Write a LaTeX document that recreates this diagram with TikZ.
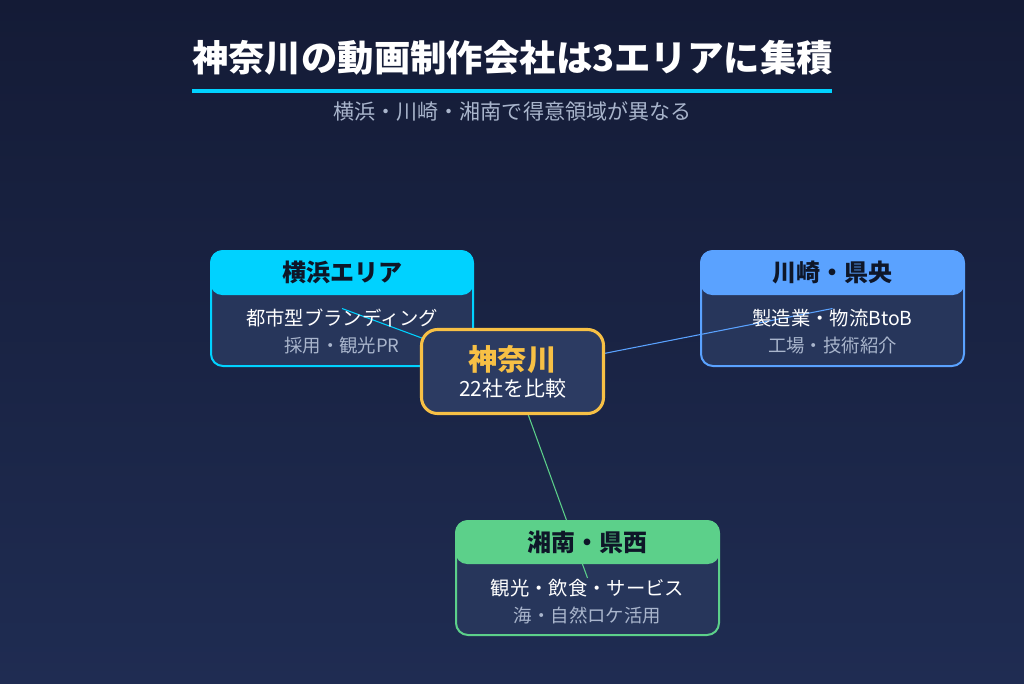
\documentclass[tikz,border=0pt]{standalone}
\usepackage{fontspec}
\setmainfont{Noto Sans CJK JP}
\usetikzlibrary{calc}
\definecolor{bgtop}{HTML}{141B36}
\definecolor{bgbot}{HTML}{1F2C52}
\definecolor{bodyc}{HTML}{27365B}
\definecolor{cyanc}{HTML}{00D2FF}
\definecolor{bluec}{HTML}{5AA2FF}
\definecolor{greenc}{HTML}{5CD08A}
\definecolor{goldc}{HTML}{F7C045}
\definecolor{centc}{HTML}{2C3B62}
\definecolor{subc}{HTML}{A9B5CC}
\definecolor{darkt}{HTML}{0E1628}
\tikzset{
  bodybox/.style={draw=#1, line width=1.5pt, fill=bodyc, rounded corners=9pt},
  headbox/.style={fill=#1, rounded corners=9pt},
  headtxt/.style={text=darkt, font=\fontsize{18}{20}\selectfont\bfseries},
  line1/.style={text=white, font=\fontsize{14.5}{16}\selectfont},
  line2/.style={text=subc, font=\fontsize{13.8}{15}\selectfont},
  link/.style={draw=#1, line width=0.8pt},
}
\begin{document}
\begin{tikzpicture}[x=0.75pt,y=-0.75pt]
\shade[top color=bgtop, bottom color=bgbot] (0,0) rectangle (1024,683);
\useasboundingbox (0,0) rectangle (1024,683);
% title
\node[text=white, font=\fontsize{27.3}{30}\selectfont\bfseries] (title) at (512.5,58) {神奈川の動画制作会社は3エリアに集積};
\fill[cyanc] (192,89) rectangle (832,92.5);
\node[text=subc, font=\fontsize{15.8}{17}\selectfont] (sub) at (512.5,112) {横浜・川崎・湘南で得意領域が異なる};
% bodies
\draw[bodybox=cyanc] (211,251) rectangle (473,366);
\draw[bodybox=bluec] (701,251) rectangle (964,366);
\draw[bodybox=greenc] (456,521) rectangle (719,635);
\coordinate (yc) at (342,308.5);
\coordinate (kc) at (832.5,308.5);
\coordinate (sc) at (587.5,578);
\coordinate (cc) at (512.5,371.5);
% links
\draw[link=cyanc] (cc) -- (yc);
\draw[link=bluec] (cc) -- (kc);
\draw[link=greenc] (cc) -- (sc);
% headers
\fill[headbox=cyanc] (210.25,250.25) rectangle (473.75,295);
\fill[headbox=bluec] (700.25,250.25) rectangle (964.75,295);
\fill[headbox=greenc] (455.25,520.25) rectangle (719.75,564);
\node[headtxt] (yh) at (342,272) {横浜エリア};
\node[headtxt] (kh) at (832.5,272) {川崎・県央};
\node[headtxt] (sh) at (587.5,542) {湘南・県西};
\node[line1] (y1) at (342,318) {都市型ブランディング};
\node[line2] (y2) at (342,346) {採用・観光PR};
\node[line1] (k1) at (832.5,318) {製造業・物流BtoB};
\node[line2] (k2) at (832.5,346) {工場・技術紹介};
\node[line1] (s1) at (587.5,588) {観光・飲食・サービス};
\node[line2] (s2) at (587.5,615) {海・自然ロケ活用};
% center
\draw[draw=goldc, line width=2.3pt, fill=centc, rounded corners=12pt] (421.5,329.5) rectangle (603.5,413.5);
\node[text=goldc, font=\fontsize{22}{24}\selectfont\bfseries] (ct) at (512.5,359) {神奈川};
\node[text=white, font=\fontsize{15.7}{17}\selectfont] (cs) at (512.5,389) {22社を比較};
\end{tikzpicture}
\end{document}
